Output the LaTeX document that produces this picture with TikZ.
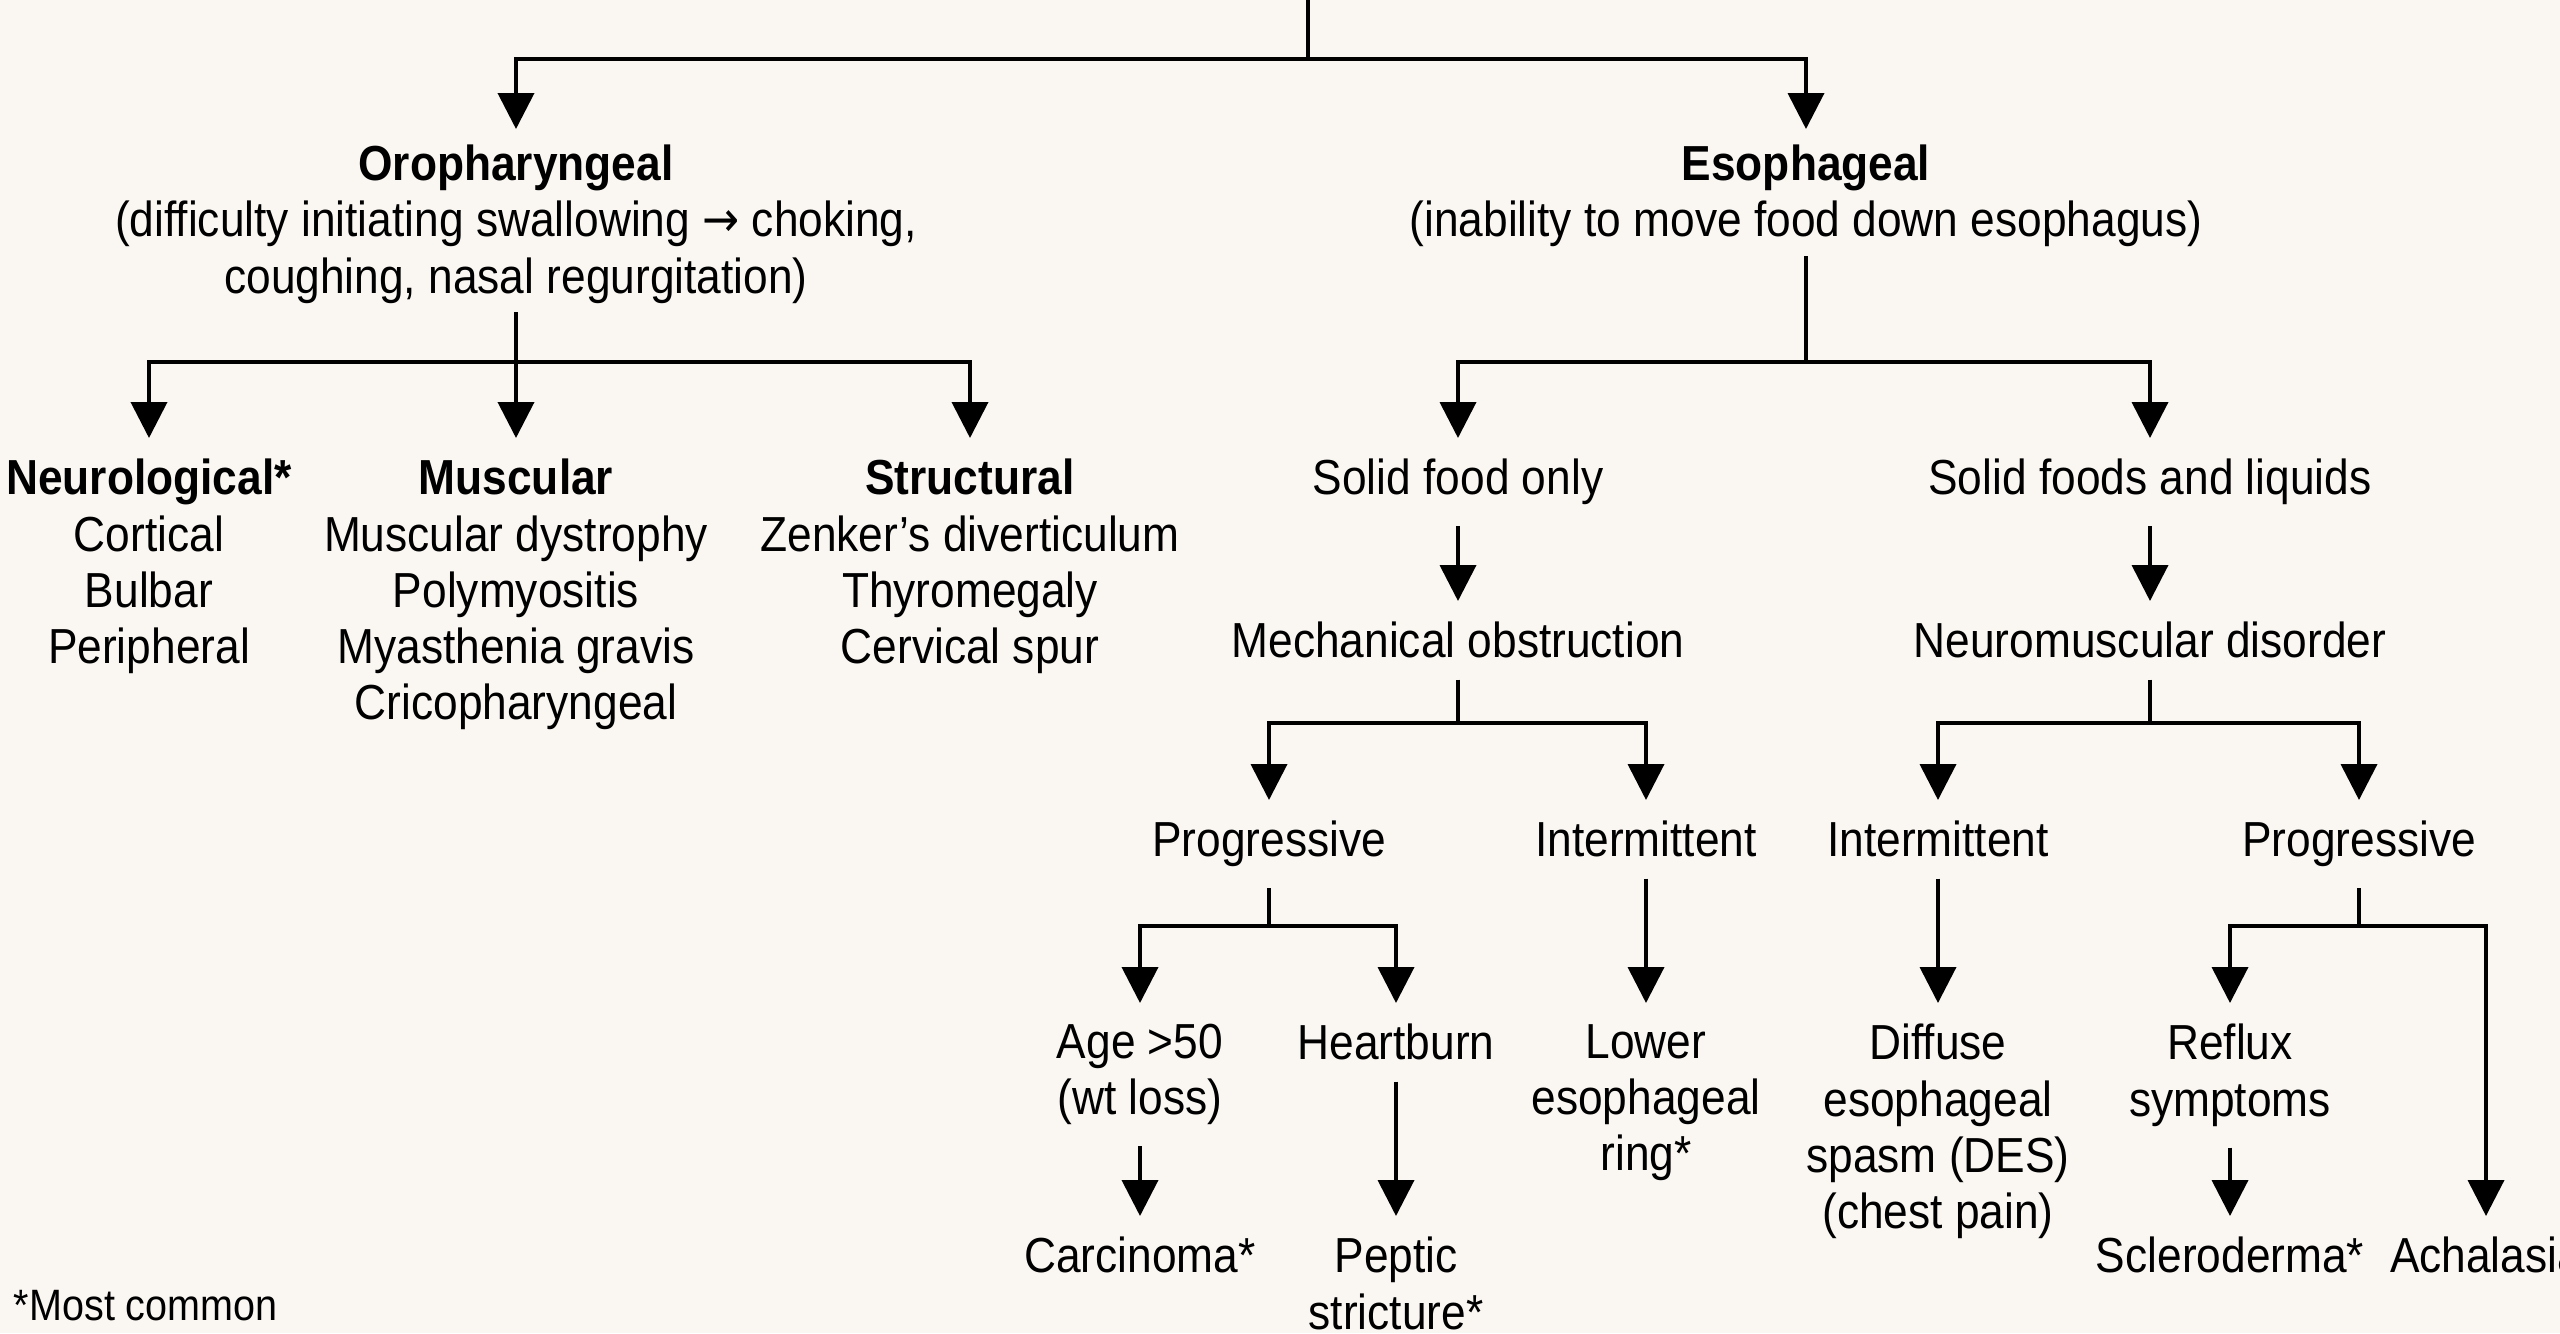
\documentclass[tikz,border=0pt]{standalone}
\usepackage{fontspec}
\setmainfont{Liberation Sans}[FakeStretch=0.9]
\newfontfamily\arrowfont{DejaVu Sans}[FakeStretch=0.9]
\usetikzlibrary{positioning,arrows.meta}
\definecolor{paper}{RGB}{250,247,243}

\begin{document}
\begin{tikzpicture}[
  >={Triangle[length=3.6mm, width=3.6mm]},
  line width=1.1pt,
  every node/.style={align=center},
  txt/.style={font=\fontsize{14}{16}\selectfont, inner xsep=4pt, inner ysep=5.5pt, anchor=north},
  head/.style={txt, inner ysep=2pt},
  note/.style={font=\fontsize{12.5}{14}\selectfont, inner sep=0pt, anchor=west}
]
\fill[paper] (0,0) rectangle (25.6,-13.33);
\useasboundingbox (0,0) rectangle (25.6,-13.33);

% --- Top split ---
\coordinate (root) at (13.08, 0);
\coordinate (b0)   at (13.08, -0.59);
\node[head] (oro) at ( 5.16, -1.36) {\textbf{Oropharyngeal}\\(difficulty initiating swallowing {\arrowfont→} choking,\\coughing, nasal regurgitation)};
\node[head] (eso) at (18.06, -1.36) {\textbf{Esophageal}\\(inability to move food down esophagus)};

\draw (root) -- (b0);
\draw[->, shorten >=0.07cm] (b0) -| (oro.north);
\draw[->, shorten >=0.07cm] (b0) -| (eso.north);

% --- Oropharyngeal causes ---
\coordinate (b1) at (5.16, -3.62);
\node[txt] (neuro) at (1.49, -4.38) {\textbf{Neurological*}\\Cortical\\Bulbar\\Peripheral};
\node[txt] (musc)  at (5.16, -4.38) {\textbf{Muscular}\\Muscular dystrophy\\Polymyositis\\Myasthenia gravis\\Cricopharyngeal};
\node[txt] (struc) at (9.70, -4.38) {\textbf{Structural}\\Zenker’s diverticulum\\Thyromegaly\\Cervical spur};

\draw (oro.south) -- (b1);
\draw[->] (b1) -| (neuro.north);
\draw[->] (b1) -- (musc.north);
\draw[->] (b1) -| (struc.north);

% --- Esophageal: solids vs. solids and liquids ---
\coordinate (b2) at (18.06, -3.62);
\node[txt] (solid)  at (14.58, -4.38) {Solid food only};
\node[txt] (liquid) at (21.50, -4.38) {Solid foods and liquids};
\node[txt] (mech)      at (14.58, -6.01) {Mechanical obstruction};
\node[txt] (neuromusc) at (21.50, -6.01) {Neuromuscular disorder};

\draw (eso.south) -- (b2);
\draw[->] (b2) -| (solid.north);
\draw[->] (b2) -| (liquid.north);
\draw[->] (solid) -- (mech);
\draw[->] (liquid) -- (neuromusc);

% --- Course of symptoms ---
\coordinate (b3) at (14.58, -7.23);
\coordinate (b4) at (21.50, -7.23);
\node[txt] (prog1)  at (12.69, -8.00) {Progressive};
\node[txt] (inter1) at (16.46, -8.00) {Intermittent};
\node[txt] (inter2) at (19.38, -8.00) {Intermittent};
\node[txt] (prog2)  at (23.59, -8.00) {Progressive};

\draw (mech.south) -- (b3);
\draw[->] (b3) -| (prog1.north);
\draw[->] (b3) -| (inter1.north);
\draw (neuromusc.south) -- (b4);
\draw[->] (b4) -| (inter2.north);
\draw[->] (b4) -| (prog2.north);

% --- Leaves ---
\coordinate (b5) at (12.69, -9.26);
\coordinate (b6) at (23.59, -9.26);
\node[txt] (age)    at (11.40, -10.03) {Age >50\\(wt loss)};
\node[txt] (heart)  at (13.96, -10.03) {Heartburn};
\node[txt] (ring)   at (16.46, -10.03) {Lower\\esophageal\\ring*};
\node[txt] (des)    at (19.38, -10.03) {Diffuse\\esophageal\\spasm (DES)\\(chest pain)};
\node[txt] (reflux) at (22.30, -10.03) {Reflux\\symptoms};
\node[txt] (carc)   at (11.40, -12.16) {Carcinoma*};
\node[txt] (peptic) at (13.96, -12.16) {Peptic\\stricture*};
\node[txt] (sclero) at (22.30, -12.16) {Scleroderma*};
\node[txt] (achal)  at (24.86, -12.16) {Achalasia};

\draw (prog1.south) -- (b5);
\draw[->] (b5) -| (age.north);
\draw[->] (b5) -| (heart.north);
\draw[->] (inter1) -- (ring);
\draw[->] (inter2) -- (des);
\draw (prog2.south) -- (b6);
\draw[->] (b6) -| (reflux.north);
\draw[->] (b6) -| (achal.north);
\draw[->] (age) -- (carc);
\draw[->] (heart) -- (peptic);
\draw[->] (reflux) -- (sclero);

\node[note] (note) at (0.12, -13.06) {*Most common};
\end{tikzpicture}
\end{document}
